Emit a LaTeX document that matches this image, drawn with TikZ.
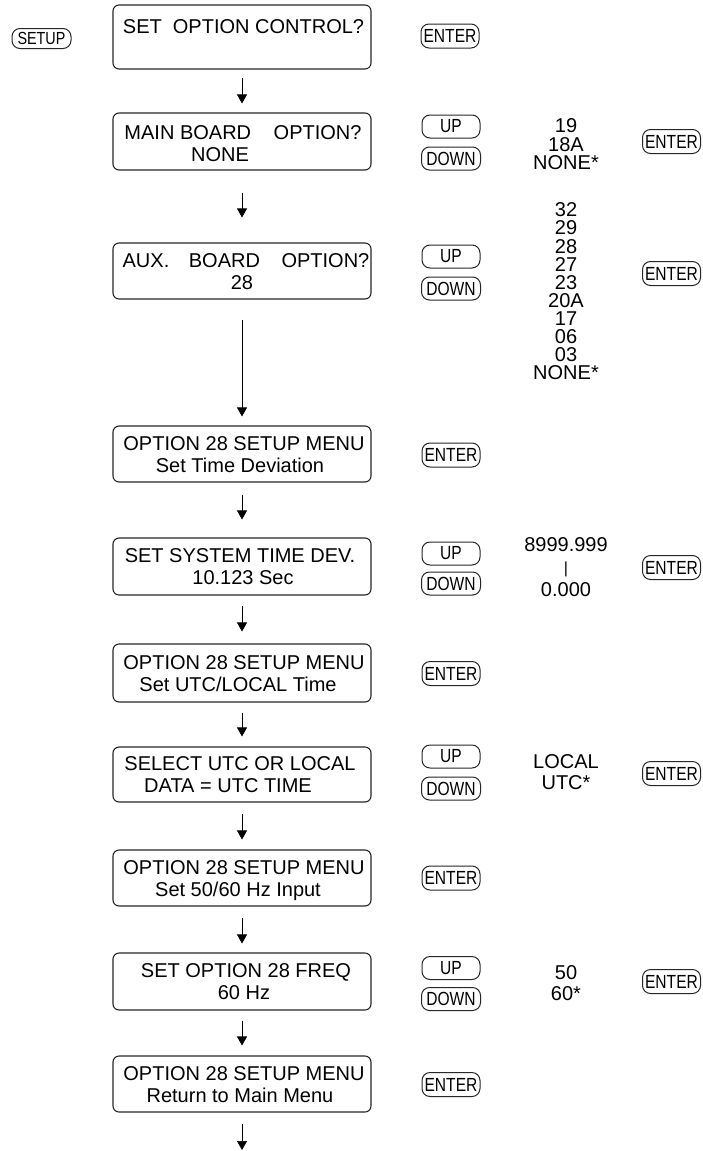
\documentclass[tikz,border=0pt]{standalone}
\usepackage{fontspec}
\setmainfont{Liberation Sans}
\newfontfamily\btnfont[FakeStretch=0.82]{Liberation Sans}
\usetikzlibrary{arrows.meta}
\begin{document}
\begin{tikzpicture}[x=1pt,y=-1pt,
  box/.style={draw=black!85, line width=1.1pt, rounded corners=6pt, minimum width=258pt, inner sep=0pt},
  lcd/.style={font=\fontsize{20}{24}\selectfont, anchor=base, inner sep=0pt},
  btn/.style={draw=black!85, line width=1pt, rounded corners=8pt, minimum width=58pt, minimum height=23pt, inner sep=0pt, font=\btnfont\fontsize{19}{20}\selectfont},
  val/.style={font=\fontsize{20}{20}\selectfont, inner sep=0pt, anchor=center},
  arr/.style={draw=black, line width=0.6pt, -{Triangle[length=9pt,width=10pt]}}
]
\useasboundingbox (0,0) rectangle (703,1151);

% ---- main column boxes
\node[box, minimum height=64pt] (b1) at (242,37) {};
\node[box, minimum height=57pt] (b2) at (242,141.5) {};
\node[box, minimum height=56pt] (b3) at (242,271) {};
\node[box, minimum height=56pt] (b4) at (242,454) {};
\node[box, minimum height=57pt] (b5) at (242,566.5) {};
\node[box, minimum height=58pt] (b6) at (242,673) {};
\node[box, minimum height=55pt] (b7) at (242,774.5) {};
\node[box, minimum height=56pt] (b8) at (242,878) {};
\node[box, minimum height=57pt] (b9) at (242,981.5) {};
\node[box, minimum height=56pt] (b10) at (242,1084) {};

% ---- box texts
\node[lcd] (t1a) at (243.5,33) {SET\ \ OPTION CONTROL?};
\node[lcd] (t2a) at (243,139) {MAIN BOARD\hspace{17pt} OPTION?};
\node[lcd] (t2b) at (220,161) {NONE};
\node[lcd] (t3a) at (246,267) {AUX.\hspace{14pt} BOARD\hspace{16pt} OPTION?};
\node[lcd] (t3b) at (242,289) {28};
\node[lcd] (t4a) at (244,450) {OPTION 28 SETUP MENU};
\node[lcd] (t4b) at (240,472) {Set Time Deviation};
\node[lcd] (t5a) at (240,562.5) {SET SYSTEM TIME DEV.};
\node[lcd] (t5b) at (243,584.5) {10.123 Sec};
\node[lcd] (t6a) at (244,669) {OPTION 28 SETUP MENU};
\node[lcd] (t6b) at (238,691) {Set UTC/LOCAL Time};
\node[lcd] (t7a) at (240,770.5) {SELECT UTC OR LOCAL};
\node[lcd] (t7b) at (228,792.5) {DATA = UTC TIME};
\node[lcd] (t8a) at (244,874) {OPTION 28 SETUP MENU};
\node[lcd] (t8b) at (238,896) {Set 50/60 Hz Input};
\node[lcd] (t9a) at (246,977.5) {SET OPTION 28 FREQ};
\node[lcd] (t9b) at (244,999.5) {60 Hz};
\node[lcd] (t10a) at (244,1080) {OPTION 28 SETUP MENU};
\node[lcd] (t10b) at (240,1102) {Return to Main Menu};

% ---- arrows
\draw[arr, shorten <=8pt, shorten >=9pt] (b1) -- (b2);
\draw[arr, shorten <=22pt, shorten >=25pt] (b2) -- (b3);
\draw[arr, shorten <=20pt, shorten >=9pt] (b3) -- (b4);
\draw[arr, shorten <=12pt, shorten >=18pt] (b4) -- (b5);
\draw[arr, shorten <=10pt, shorten >=12pt] (b5) -- (b6);
\draw[arr, shorten <=10pt, shorten >=10pt] (b6) -- (b7);
\draw[arr, shorten <=11pt, shorten >=10pt] (b7) -- (b8);
\draw[arr, shorten <=11pt, shorten >=9pt] (b8) -- (b9);
\draw[arr, shorten <=10pt, shorten >=10pt] (b9) -- (b10);
\coordinate (endpt) at (242,1150);
\draw[arr, shorten <=11pt] (b10) -- (endpt);

% ---- buttons
\node[btn, minimum width=59pt, minimum height=20pt, font=\btnfont\fontsize{17.5}{18}\selectfont] (setup) at (41.5,38.5) {SETUP};
\node[btn, minimum height=24pt] (e1) at (450,36) {ENTER};
\node[btn] (up2) at (451,126.5) {UP};
\node[btn, minimum width=59pt] (dn2) at (451,158.5) {DOWN};
\node[btn, minimum height=24pt] (r2) at (671.5,141.5) {ENTER};
\node[btn] (up3) at (451,256.5) {UP};
\node[btn, minimum width=59pt] (dn3) at (451,288.5) {DOWN};
\node[btn, minimum height=24pt] (r3) at (671.5,273.5) {ENTER};
\node[btn, minimum height=24pt] (e4) at (451,455) {ENTER};
\node[btn] (up5) at (451,553.5) {UP};
\node[btn, minimum width=59pt] (dn5) at (451,583.5) {DOWN};
\node[btn, minimum height=24pt] (r5) at (671.5,567.5) {ENTER};
\node[btn, minimum height=24pt] (e6) at (451,673.5) {ENTER};
\node[btn] (up7) at (451,756.5) {UP};
\node[btn, minimum width=59pt] (dn7) at (451,788.5) {DOWN};
\node[btn, minimum height=24pt] (r7) at (671.5,773.5) {ENTER};
\node[btn, minimum height=24pt] (e8) at (451,878) {ENTER};
\node[btn] (up9) at (451,968) {UP};
\node[btn, minimum width=59pt] (dn9) at (451,999) {DOWN};
\node[btn, minimum height=24pt] (r9) at (671.5,981.5) {ENTER};
\node[btn, minimum height=24pt] (e10) at (451,1084.5) {ENTER};

% ---- value lists
\node[val] (v2a) at (566,126) {19};
\node[val] (v2b) at (566,145) {18A};
\node[val] (v2c) at (566,163) {NONE*};
\foreach \v [count=\k from 0] in {32,29,28,27,23,20A,17,06,03,NONE*}{
  \node[val] (v3\k) at (566,210+18.06*\k) {\v};
}
\node[val] (v5a) at (566,545) {8999.999};
\node[val, font=\fontsize{16}{16}\selectfont] (v5b) at (566,569.5) {|};
\node[val] (v5c) at (566,590) {0.000};
\node[val] (v7a) at (566,762) {LOCAL};
\node[val] (v7b) at (566,783) {UTC*};
\node[val] (v9a) at (566,973) {50};
\node[val] (v9b) at (566,994) {60*};
\end{tikzpicture}
\end{document}
